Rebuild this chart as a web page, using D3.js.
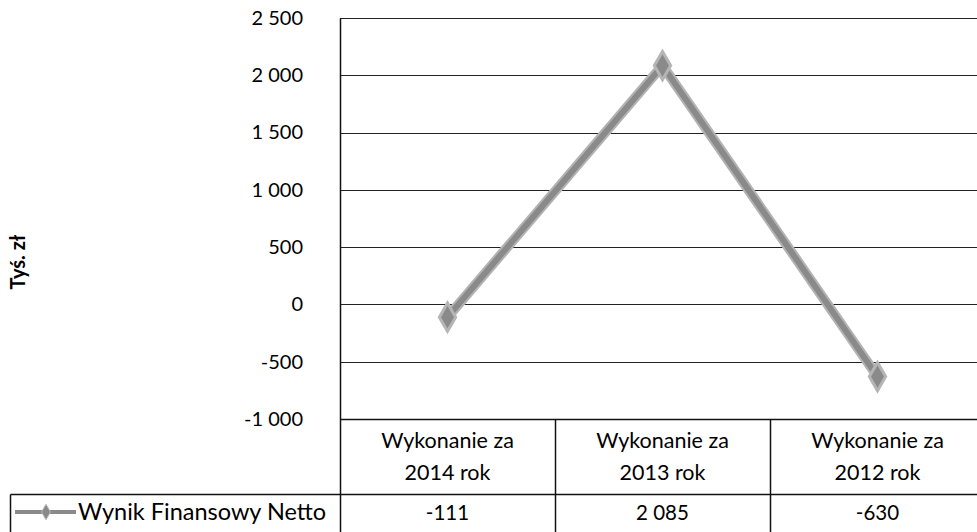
<!DOCTYPE html>
<html>
<head>
<meta charset="utf-8">
<script src="https://cdn.jsdelivr.net/npm/d3@7"></script>
<style>
  body { margin: 0; background: #fff; }
  svg { display: block; font-family: Lato, "Open Sans", sans-serif; }
</style>
</head>
<body>
<svg width="977" height="532"></svg>
<script>
const categories = ['Wykonanie za 2014 rok', 'Wykonanie za 2013 rok', 'Wykonanie za 2012 rok']
const values = [-111, 2085, -630]
const yTicks = [-1000, -500, 0, 500, 1000, 1500, 2000, 2500]
const seriesName = 'Wynik Finansowy Netto'
const axisTitle = 'Tyś. zł'

const svg = d3.select('svg')
const plotLeft = 340, plotRight = 985, plotTop = 18, plotBottom = 419
const rowSplit = 494, tableBottom = 532

const pl = d3.formatLocale({ decimal: ',', thousands: '\u00a0', grouping: [3], currency: ['', ' zł'], minus: '-' })
const fmt = pl.format(',d')

const x = d3.scaleBand().domain(categories).range([plotLeft, plotRight])
const y = d3.scaleLinear().domain([-1000, 2500]).range([plotBottom, plotTop])

// gridlines
svg.append('g')
  .selectAll('line')
  .data(yTicks)
  .enter()
  .append('line')
  .attr('x1', plotLeft).attr('x2', plotRight)
  .attr('y1', d => Math.round(y(d)) + 0.5).attr('y2', d => Math.round(y(d)) + 0.5)
  .attr('stroke', '#222').attr('stroke-width', 1.2)

// y axis labels
const yAxis = svg.append('g')
  .attr('transform', `translate(${plotLeft - 37}, 0)`)
  .call(d3.axisLeft(y).tickValues(yTicks).tickSize(0).tickPadding(0).tickFormat(fmt))
yAxis.select('.domain').remove()
yAxis.selectAll('text')
  .attr('font-size', 20)
  .attr('font-family', 'Lato, sans-serif')
  .attr('fill', '#000')

svg.append('text')
  .attr('transform', 'translate(25, 262) rotate(-90)')
  .attr('text-anchor', 'middle')
  .attr('font-size', 20)
  .attr('font-weight', 'bold')
  .attr('fill', '#000')
  .text(axisTitle)

// table + axis borders
const lines = [
  [plotLeft, plotTop, plotLeft, tableBottom],
  [plotLeft, plotBottom, plotRight, plotBottom],
  [10, rowSplit, plotRight, rowSplit],
  [10, rowSplit, 10, tableBottom]
]
categories.slice(1).forEach(c => lines.push([x(c), plotBottom, x(c), tableBottom]))
svg.append('g')
  .selectAll('line')
  .data(lines)
  .enter()
  .append('line')
  .attr('x1', d => Math.round(d[0]) + 0.5).attr('y1', d => Math.round(d[1]) + 0.5)
  .attr('x2', d => Math.round(d[2]) + 0.5).attr('y2', d => Math.round(d[3]) + 0.5)
  .attr('stroke', '#111').attr('stroke-width', 1.5)

// category headers
const head = svg.append('g')
  .selectAll('text')
  .data(categories)
  .enter()
  .append('text')
  .attr('text-anchor', 'middle')
  .attr('font-size', 21.5)
  .attr('fill', '#000')
head.append('tspan')
  .attr('x', d => x(d) + x.bandwidth() / 2)
  .attr('y', 448)
  .text(d => d.replace(/ \d{4} rok$/, ''))
head.append('tspan')
  .attr('x', d => x(d) + x.bandwidth() / 2)
  .attr('y', 480)
  .text(d => d.match(/\d{4} rok$/)[0])

// values row
svg.append('g')
  .selectAll('text')
  .data(values)
  .enter()
  .append('text')
  .attr('x', (d, i) => x(categories[i]) + x.bandwidth() / 2)
  .attr('y', 520)
  .attr('text-anchor', 'middle')
  .attr('font-size', 20.5)
  .attr('fill', '#000')
  .text(d => fmt(d))

// series line
const pts = values.map((v, i) => [x(categories[i]) + x.bandwidth() / 2, y(v)])
svg.append('path')
  .datum(pts)
  .attr('d', d3.line())
  .attr('fill', 'none')
  .attr('stroke', '#b3b3b3')
  .attr('stroke-width', 10)
svg.append('path')
  .datum(pts)
  .attr('d', d3.line())
  .attr('fill', 'none')
  .attr('stroke', '#8a8a8a')
  .attr('stroke-width', 6)

const diamond = d3.symbol().type(d3.symbolDiamond).size(230)
svg.append('g')
  .selectAll('path')
  .data(pts)
  .enter()
  .append('path')
  .attr('d', diamond)
  .attr('transform', d => `translate(${d[0]}, ${d[1]})`)
  .attr('fill', '#8a8a8a')
  .attr('stroke', '#b5b5b5')
  .attr('stroke-width', 3)

// legend key
svg.append('line')
  .attr('x1', 15).attr('x2', 76).attr('y1', 512).attr('y2', 512)
  .attr('stroke', '#8a8a8a').attr('stroke-width', 4)
svg.append('path')
  .attr('d', d3.symbol().type(d3.symbolDiamond).size(70))
  .attr('transform', 'translate(46, 512)')
  .attr('fill', '#8a8a8a')
  .attr('stroke', '#bbb')
svg.append('text')
  .attr('x', 78).attr('y', 520)
  .attr('font-size', 23.5)
  .attr('fill', '#000')
  .text(seriesName)
</script>
</body>
</html>
